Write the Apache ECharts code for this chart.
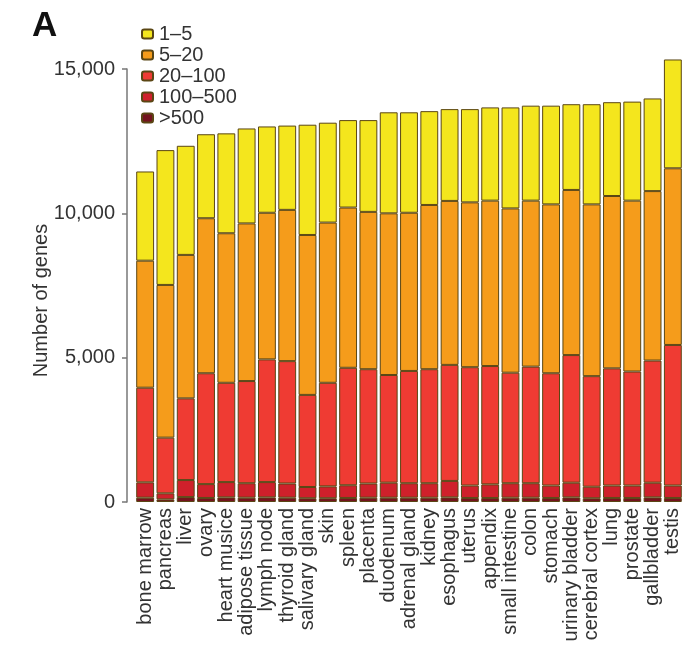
<!DOCTYPE html>
<html>
<head>
<meta charset="utf-8">
<style>
  html, body { margin: 0; padding: 0; background: #fff; }
  #chart { width: 695px; height: 645px; }
</style>
<script src="https://cdn.jsdelivr.net/npm/echarts@6/dist/echarts.min.js"></script>
</head>
<body>
<div id="chart"></div>
<script>
// Tissues, ordered by total number of detected genes
const tissues = [
  'bone marrow', 'pancreas', 'liver', 'ovary', 'heart musice', 'adipose tissue',
  'lymph node', 'thyroid gland', 'salivary gland', 'skin', 'spleen', 'placenta',
  'duodenum', 'adrenal gland', 'kidney', 'esophagus', 'uterus', 'appendix',
  'small intestine', 'colon', 'stomach', 'urinary bladder', 'cerebral cortex',
  'lung', 'prostate', 'gallbladder', 'testis'
];

// Gene counts per expression-level bin (FPKM ranges)
const over500 = [150, 90, 170, 140, 160, 150, 160, 150, 130, 130, 140, 150, 150, 150, 150, 160, 140, 140, 150, 150, 140, 160, 130, 140, 140, 160, 140];
const r100to500 = [530, 210, 590, 480, 530, 500, 530, 490, 390, 410, 440, 490, 520, 500, 500, 570, 430, 470, 500, 500, 430, 510, 400, 430, 430, 510, 430];
const r20to100 = [3280, 1930, 2830, 3840, 3440, 3540, 4250, 4240, 3190, 3590, 4070, 3960, 3730, 3890, 3950, 4020, 4100, 4100, 3830, 4040, 3890, 4420, 3830, 4060, 3950, 4230, 4870];
const r5to20 = [4400, 5290, 4970, 5370, 5180, 5460, 5080, 5240, 5540, 5550, 5550, 5450, 5600, 5480, 5690, 5680, 5710, 5730, 5690, 5750, 5850, 5720, 5950, 5970, 5920, 5870, 6120];
const r1to5 = [3090, 4670, 3780, 2910, 3460, 3290, 2990, 2920, 3820, 3460, 3030, 3180, 3500, 3480, 3250, 3180, 3230, 3230, 3500, 3290, 3420, 2970, 3470, 3250, 3430, 3210, 3770];

const yTicks = [0, 5000, 10000, 15000];

const FONT = '"Liberation Sans", Arial, Helvetica, sans-serif';
const TEXT = '#333';
const EDGE = '#5a4614';

// Bins stacked bottom-up: highest expression at the base
const bins = [
  { name: '>500',    data: over500,   color: '#74131e' },
  { name: '100–500', data: r100to500, color: '#cf202b' },
  { name: '20–100',  data: r20to100,  color: '#ef3b33' },
  { name: '5–20',    data: r5to20,    color: '#f59c1b' },
  { name: '1–5',     data: r1to5,     color: '#f4e61d' }
];

const chart = echarts.init(document.getElementById('chart'), null, { renderer: 'canvas' });

chart.setOption({
  animation: false,
  backgroundColor: '#fff',
  textStyle: { fontFamily: FONT },
  graphic: [{
    type: 'text',
    left: 32,
    top: 9,
    style: { text: 'A', font: 'bold 35px ' + FONT, fill: '#111' }
  }],
  legend: {
    orient: 'vertical',
    left: 136,
    top: 19,
    itemWidth: 11,
    itemHeight: 9,
    itemGap: 1,
    data: ['1–5', '5–20', '20–100', '100–500', '>500'],
    textStyle: { fontSize: 20, color: TEXT, lineHeight: 20, padding: [0, 0, 0, 1] }
  },
  grid: { left: 135, right: 12, top: 69, bottom: 143, containLabel: false },
  xAxis: {
    type: 'category',
    data: tissues,
    axisLine: { show: false },
    axisTick: { show: false },
    axisLabel: { rotate: 90, interval: 0, margin: 6, fontSize: 20, color: TEXT, fontFamily: FONT }
  },
  yAxis: {
    type: 'value',
    min: yTicks[0],
    max: yTicks[yTicks.length - 1],
    interval: yTicks[1] - yTicks[0],
    offset: 8,
    name: 'Number of genes',
    nameLocation: 'middle',
    nameGap: 76,
    nameMoveOverlap: false,
    nameRotate: 90,
    nameTextStyle: { fontSize: 20, color: TEXT, fontFamily: FONT, padding: [0, 0, 0, -30] },
    splitLine: { show: false },
    axisLine: { show: true, lineStyle: { color: '#777', width: 1.5 } },
    axisTick: { show: true, length: 5, lineStyle: { color: '#777', width: 1.5 } },
    axisLabel: {
      margin: 12, fontSize: 20, color: TEXT, fontFamily: FONT,
      formatter: v => v.toLocaleString('en-US')
    }
  },
  series: bins.map(b => ({
    name: b.name,
    type: 'bar',
    stack: 'genes',
    data: b.data,
    clip: false,
    barCategoryGap: '12%',
    itemStyle: { color: b.color, borderColor: EDGE, borderWidth: 1 }
  }))
});
</script>
</body>
</html>
